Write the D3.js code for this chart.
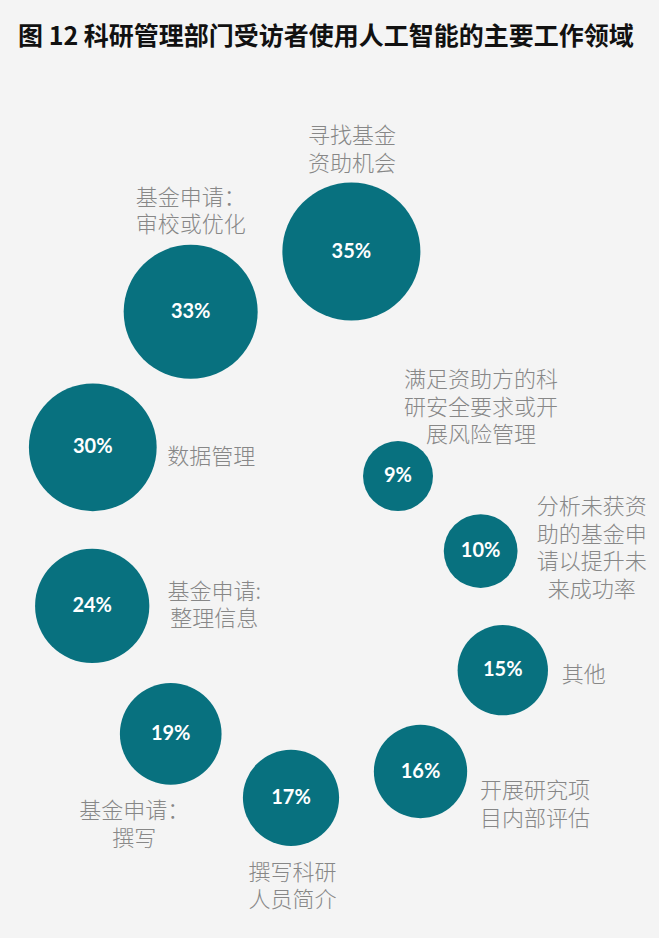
<!DOCTYPE html>
<html><head><meta charset="utf-8">
<script src="https://cdn.jsdelivr.net/npm/d3@7"></script>
<style>
html,body{margin:0;padding:0;background:#f4f4f4;}
svg{display:block;}
</style></head><body>
<svg id="chart" width="659" height="938"></svg>
<script>
// ---- data ----
const title = "图 12 科研管理部门受访者使用人工智能的主要工作领域";
const categories = [
  "寻找基金资助机会",
  "基金申请：审校或优化",
  "数据管理",
  "基金申请:整理信息",
  "基金申请：撰写",
  "撰写科研人员简介",
  "开展研究项目内部评估",
  "其他",
  "分析未获资助的基金申请以提升未来成功率",
  "满足资助方的科研安全要求或开展风险管理"
];
const values = [35, 33, 30, 24, 19, 17, 16, 15, 10, 9];
const labelLines = [
  ["寻找基金", "资助机会"],
  ["基金申请：", "审校或优化"],
  ["数据管理"],
  ["基金申请:", "整理信息"],
  ["基金申请：", "撰写"],
  ["撰写科研", "人员简介"],
  ["开展研究项", "目内部评估"],
  ["其他"],
  ["分析未获资", "助的基金申", "请以提升未", "来成功率"],
  ["满足资助方的科", "研安全要求或开", "展风险管理"]
];

// ---- layout (ring placement, degrees clockwise from top, distance from ring centre) ----
const ringAngle = [10.1, -25.6, -65.9, -107.6, -146.3, -178.0, 152.5, 122.7, 93.5, 56.9];
const ringDist  = [293, 253, 227, 218, 233, 258, 261, 241, 181, 117];
const labelOffset = [[0.5,-118.5],[0,-117],[118.5,7],[122,-17],[-36.5,74.5],[1.5,72],[114.5,16.5],[81,2],[111,-47],[83,-99]];
const ringCenter = [300, 540];

const W = 659, H = 938;
const svg = d3.select("#chart");
svg.append("rect").attr("width", W).attr("height", H).attr("fill", "#f4f4f4");

svg.append("text")
  .attr("x", 18).attr("y", 45)
  .attr("font-family", "'Noto Sans CJK SC', sans-serif")
  .attr("font-weight", 700)
  .attr("font-size", 25)
  .attr("fill", "#111")
  .text(title);

const r = d3.scaleSqrt().domain([0, 35]).range([0, 69]);

const nodes = values.map((v, i) => {
  const p = d3.pointRadial(ringAngle[i] * Math.PI / 180, ringDist[i]);
  return { v, i, cat: categories[i], lines: labelLines[i],
           x: ringCenter[0] + p[0], y: ringCenter[1] + p[1] };
});

const g = svg.append("g");
const node = g.selectAll("g.node").data(nodes).join("g").attr("class", "node")
  .attr("transform", d => `translate(${d.x},${d.y})`);

node.append("circle")
  .attr("r", d => r(d.v))
  .attr("fill", "#08717f");

node.append("text")
  .attr("text-anchor", "middle")
  .attr("y", 6)
  .attr("font-family", "Lato, 'Open Sans', sans-serif")
  .attr("font-weight", 700)
  .attr("font-size", 20)
  .attr("fill", "#ffffff")
  .text(d => d.v + "%");

const lh = 27.5;
node.append("text")
  .attr("text-anchor", "middle")
  .attr("font-family", "'Noto Sans CJK SC', sans-serif")
  .attr("font-weight", 300)
  .attr("font-size", 22)
  .attr("fill", "#878787")
  .attr("dominant-baseline", "central")
  .selectAll("tspan").data(d => d.lines.map((t, k) => ({ t, k, d })))
  .join("tspan")
  .attr("x", o => labelOffset[o.d.i][0])
  .attr("y", o => labelOffset[o.d.i][1] + o.k * lh)
  .text(o => o.t);
</script>
</body></html>
